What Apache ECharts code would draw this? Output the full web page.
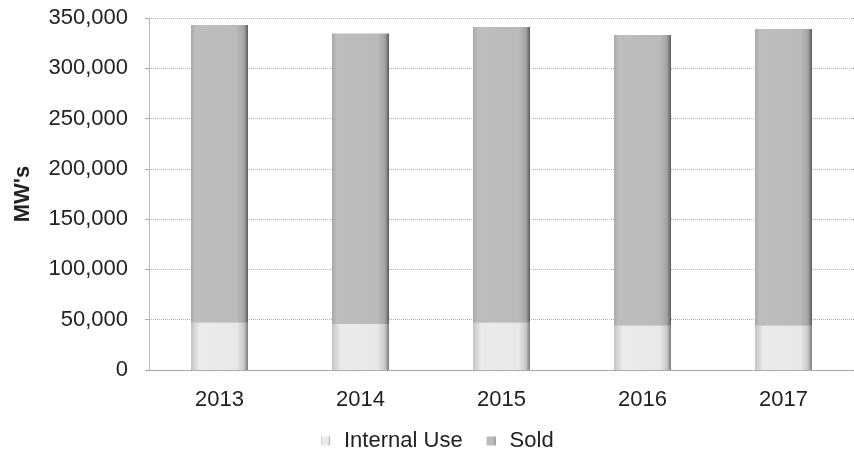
<!DOCTYPE html>
<html><head><meta charset="utf-8">
<script src="https://cdn.jsdelivr.net/npm/echarts@6/dist/echarts.min.js"></script>
<style>html,body{margin:0;padding:0;background:#fff}#c{width:854px;height:455px}</style>
</head><body><div id="c"></div>
<script>
const categories = ['2013','2014','2015','2016','2017'];
const internalUse = [47000, 45700, 47000, 44000, 44000];
const sold = [296000, 289000, 294000, 289000, 295000];
const yTicks = [0, 50000, 100000, 150000, 200000, 250000, 300000, 350000];

const chart = echarts.init(document.getElementById('c'));
const soldColor = new echarts.graphic.LinearGradient(0,0,1,0,[
  {offset:0,color:'#a8a8a8'},{offset:0.08,color:'#bdbdbd'},{offset:0.8,color:'#bababa'},{offset:0.93,color:'#a4a4a4'},{offset:1,color:'#5a5a5a'}]);
const intColor = new echarts.graphic.LinearGradient(0,0,1,0,[
  {offset:0,color:'#c4c4c4'},{offset:0.15,color:'#ebebeb'},{offset:0.8,color:'#e8e8e8'},{offset:0.93,color:'#c8c8c8'},{offset:1,color:'#7a7a7a'}]);
chart.setOption({
  animation:false,
  textStyle:{fontFamily:'Liberation Sans, Arial, sans-serif'},
  grid:{left:149, top:18, width:717, height:352, containLabel:false},
  legend:{top:425, left:316, itemWidth:9, itemHeight:9, itemGap:24,
    textStyle:{fontSize:22,color:'#222',padding:[0,0,0,9]},
    data:[{name:'Internal Use',icon:'rect'},{name:'Sold',icon:'rect'}]},
  xAxis:{type:'category', data:categories,
    axisLine:{lineStyle:{color:'#999',type:'dotted'}},
    axisTick:{show:false},
    axisLabel:{fontSize:22,color:'#222',margin:19}},
  yAxis:{type:'value', min:0, max:350000, interval:50000,
    name:"MW's", nameLocation:'middle', nameGap:115,
    nameTextStyle:{fontSize:22,fontWeight:'bold',color:'#222'},
    axisLine:{show:true,lineStyle:{color:'#aaa',type:'dotted'}},
    axisTick:{show:true,length:4,lineStyle:{color:'#aaa'}},
    axisLabel:{fontSize:22,color:'#222',margin:21,
      formatter:v=>yTicks.includes(v)?v.toLocaleString('en-US'):''},
    splitLine:{lineStyle:{color:'#b0b0b0',type:'dotted'}}},
  series:[
    {name:'Internal Use', type:'bar', stack:'t', data:internalUse, barWidth:57,
      itemStyle:{color:intColor}},
    {name:'Sold', type:'bar', stack:'t', data:sold, barWidth:57,
      itemStyle:{color:soldColor}}
  ]
});
</script></body></html>
